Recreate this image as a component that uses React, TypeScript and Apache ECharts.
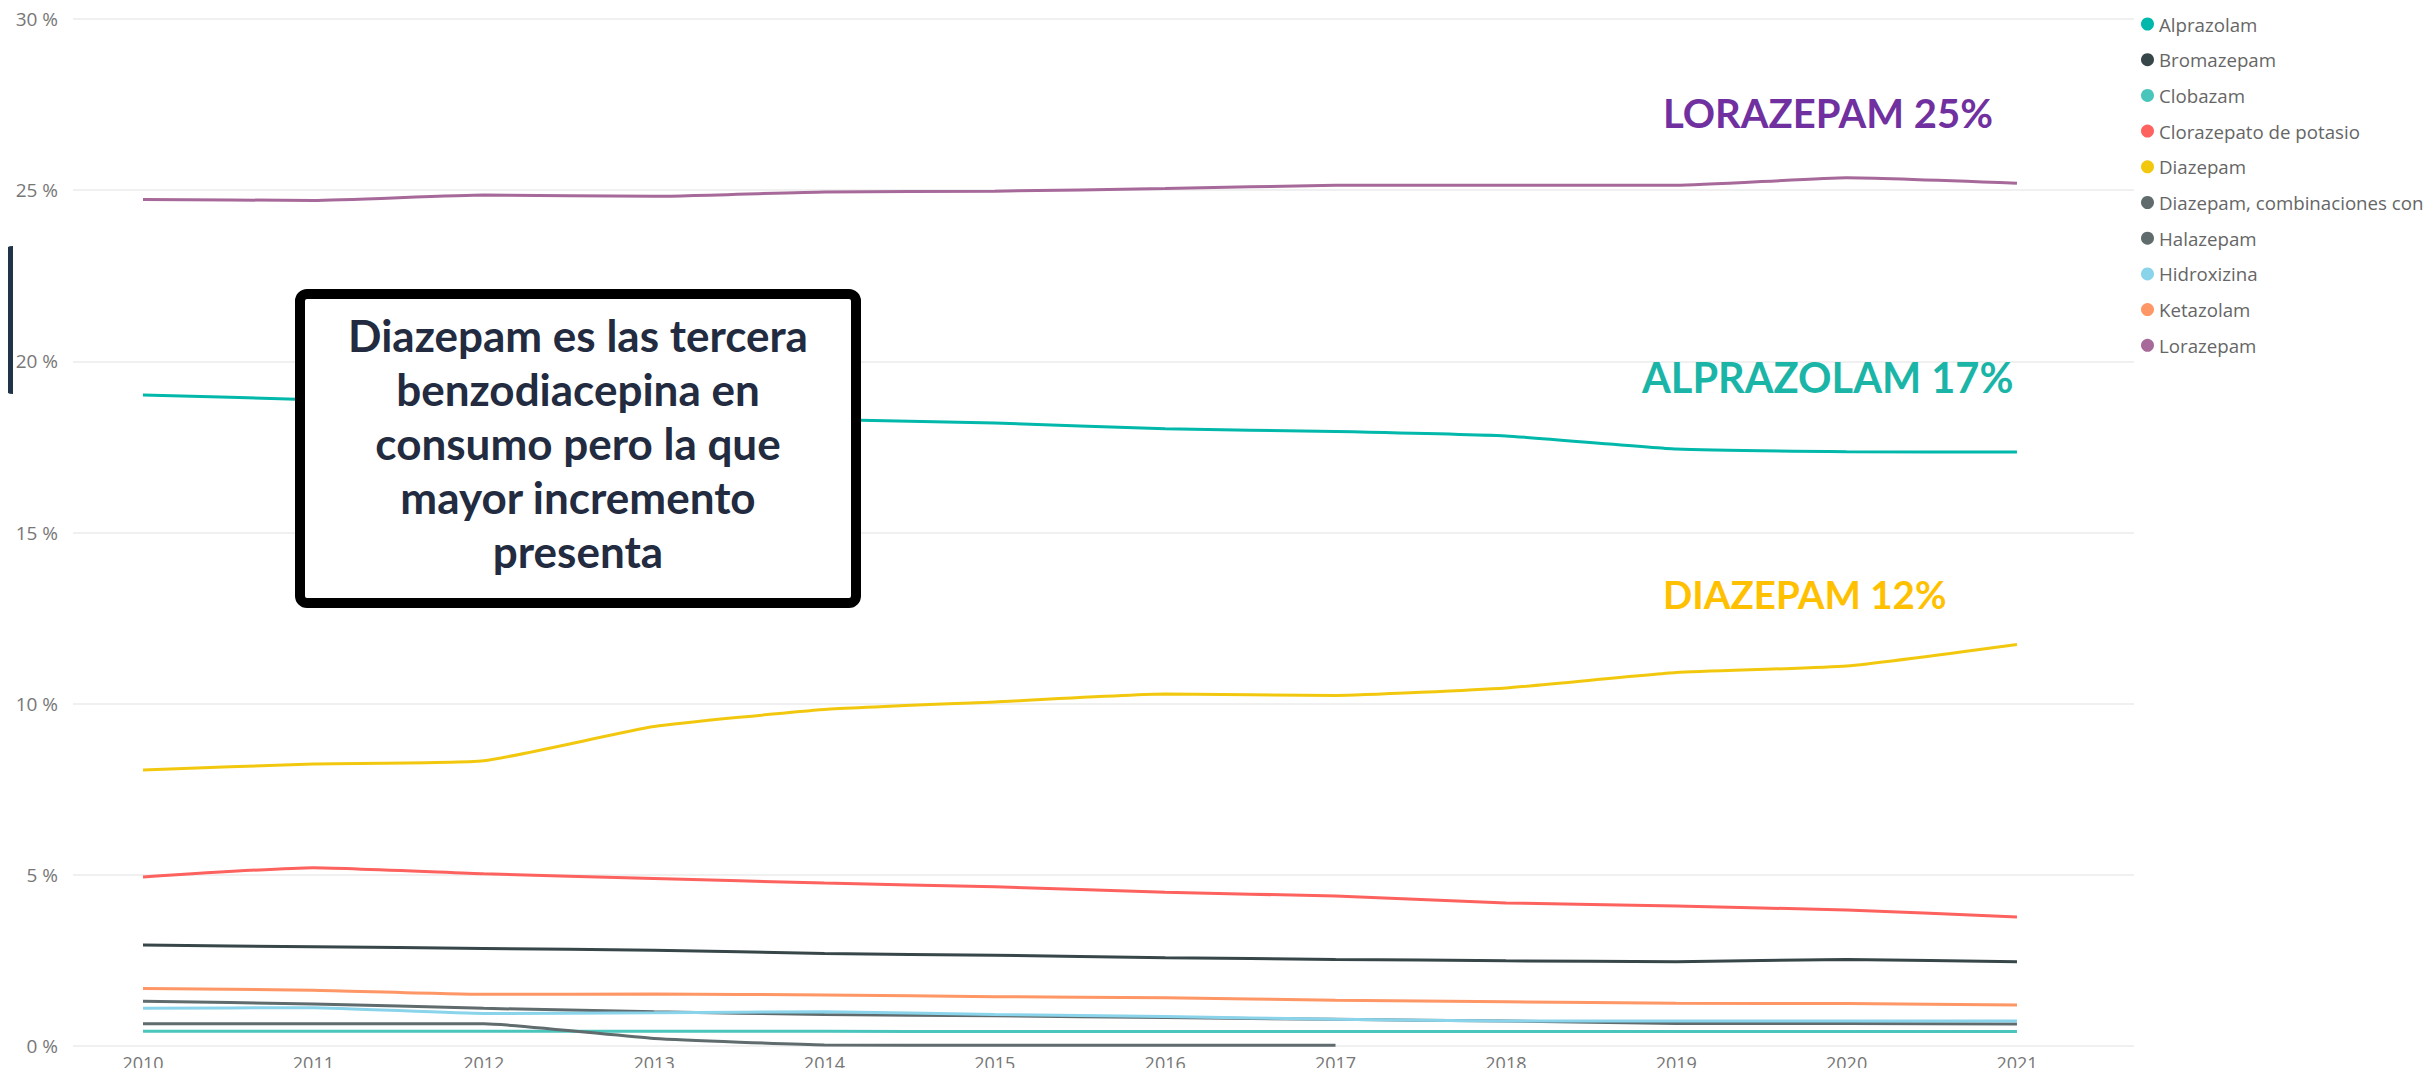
import React, { useEffect, useRef } from "react";
import * as echarts from "echarts";

const years = [2010, 2011, 2012, 2013, 2014, 2015, 2016, 2017, 2018, 2019, 2020, 2021];

const seriesNames = [
  "Alprazolam",
  "Bromazepam",
  "Clobazam",
  "Clorazepato de potasio",
  "Diazepam",
  "Diazepam, combinaciones con",
  "Halazepam",
  "Hidroxizina",
  "Ketazolam",
  "Lorazepam",
];

const seriesColors = [
  "#01B8AA",
  "#374649",
  "#4AC5BB",
  "#FD625E",
  "#F2C80F",
  "#5F6B6D",
  "#5F6B6D",
  "#8AD4EB",
  "#FE9666",
  "#A66999",
];

const alprazolam = [19.02, 18.88, 18.7, 18.5, 18.3, 18.2, 18.03, 17.95, 17.82, 17.44, 17.36, 17.35];
const bromazepam = [2.95, 2.9, 2.85, 2.8, 2.7, 2.65, 2.58, 2.53, 2.49, 2.46, 2.53, 2.46];
const clobazam = [0.43, 0.43, 0.43, 0.43, 0.43, 0.42, 0.42, 0.42, 0.42, 0.42, 0.42, 0.42];
const clorazepato = [4.94, 5.21, 5.03, 4.89, 4.76, 4.65, 4.49, 4.38, 4.18, 4.09, 3.97, 3.77];
const diazepam = [8.06, 8.24, 8.33, 9.33, 9.83, 10.05, 10.28, 10.24, 10.46, 10.91, 11.1, 11.73];
const diazepamComb = [1.31, 1.23, 1.1, 1.0, 0.92, 0.88, 0.83, 0.78, 0.73, 0.66, 0.66, 0.64];
const halazepam = [0.65, 0.65, 0.65, 0.22, 0.03, 0.02, 0.02, 0.02, null, null, null, null];
const hidroxizina = [1.1, 1.12, 0.95, 0.97, 1.0, 0.92, 0.86, 0.78, 0.73, 0.73, 0.73, 0.73];
const ketazolam = [1.68, 1.63, 1.51, 1.52, 1.49, 1.44, 1.41, 1.34, 1.29, 1.25, 1.24, 1.2];
const lorazepam = [24.73, 24.7, 24.86, 24.82, 24.95, 24.97, 25.05, 25.14, 25.14, 25.14, 25.36, 25.2];

const seriesValues = [
  alprazolam,
  bromazepam,
  clobazam,
  clorazepato,
  diazepam,
  diazepamComb,
  halazepam,
  hidroxizina,
  ketazolam,
  lorazepam,
];

const yTicks = [0, 5, 10, 15, 20, 25, 30];

const annotations = [
  { text: "LORAZEPAM 25%", color: "#7030A0" },
  { text: "ALPRAZOLAM 17%", color: "#1BB5A8" },
  { text: "DIAZEPAM 12%", color: "#FFC000" },
];

const boxText = [
  "Diazepam es las tercera",
  "benzodiacepina en",
  "consumo pero la que",
  "mayor incremento",
  "presenta",
];

const UI_FONT = "'Open Sans', 'Noto Sans', sans-serif";
const BOLD_FONT = "Lato, 'Open Sans', sans-serif";

export default function App() {
  const ref = useRef<HTMLDivElement>(null);

  useEffect(() => {
    if (!ref.current) return;
    const chart = echarts.init(ref.current, undefined, { renderer: "svg" });

    const series = seriesNames.map((name, i) => ({
      name,
      type: "line",
      data: years
        .map((y, j) => [y, seriesValues[i][j]])
        .filter((p) => p[1] !== null),
      showSymbol: false,
      symbol: "none",
      smooth: 0.15,
      lineStyle: { width: 3, color: seriesColors[i] },
      itemStyle: { color: seriesColors[i] },
      z: 3,
    }));

    const option = {
      animation: false,
      backgroundColor: "#ffffff",
      grid: { left: 73, right: 299, top: 19, bottom: 30, containLabel: false },
      xAxis: {
        type: "value",
        min: 2009.589,
        max: 2021.687,
        axisLine: { show: false },
        axisTick: { show: false },
        splitLine: { show: false },
        axisLabel: {
          customValues: years,
          formatter: (v: number) => String(v),
          color: "#777777",
          fontSize: 18,
          fontFamily: UI_FONT,
          margin: 8,
        },
      },
      yAxis: {
        type: "value",
        min: yTicks[0],
        max: yTicks[yTicks.length - 1],
        interval: 5,
        axisLine: { show: false },
        axisTick: { show: false },
        axisLabel: {
          formatter: "{value} %",
          color: "#777777",
          fontSize: 19,
          fontFamily: UI_FONT,
          margin: 15,
        },
        splitLine: { lineStyle: { color: "#ebebeb", width: 1.5 } },
      },
      legend: {
        orient: "vertical",
        left: 2136,
        top: 9,
        icon: "circle",
        itemWidth: 13,
        itemHeight: 13,
        itemGap: 15.7,
        data: seriesNames,
        textStyle: {
          color: "#666666",
          fontSize: 18.7,
          lineHeight: 20,
          fontFamily: UI_FONT,
        },
      },
      series,
      graphic: [
        {
          type: "text",
          x: 1663,
          y: 113,
          z: 10,
          style: {
            text: annotations[0].text,
            fill: annotations[0].color,
            font: `bold 40px ${BOLD_FONT}`,
            textAlign: "left",
            textVerticalAlign: "middle",
          },
        },
        {
          type: "text",
          x: 1642,
          y: 377,
          z: 10,
          style: {
            text: annotations[1].text,
            fill: annotations[1].color,
            font: `bold 41.5px ${BOLD_FONT}`,
            textAlign: "left",
            textVerticalAlign: "middle",
          },
        },
        {
          type: "text",
          x: 1663,
          y: 594,
          z: 10,
          style: {
            text: annotations[2].text,
            fill: annotations[2].color,
            font: `bold 38.5px ${BOLD_FONT}`,
            textAlign: "left",
            textVerticalAlign: "middle",
          },
        },
        {
          type: "rect",
          z: 20,
          shape: { x: 300, y: 294, width: 556, height: 309, r: 7 },
          style: { fill: "#ffffff", stroke: "#000000", lineWidth: 10 },
        },
        {
          type: "text",
          z: 21,
          x: 578,
          y: 443,
          style: {
            text: boxText.join("\n"),
            fill: "#222B40",
            font: `bold 44px ${BOLD_FONT}`,
            lineHeight: 54,
            textAlign: "center",
            textVerticalAlign: "middle",
          },
        },
        {
          type: "rect",
          z: 20,
          shape: { x: 4, y: 246, width: 9, height: 148, r: [8, 0, 0, 8] },
          style: { fill: "#1F3349" },
        },
      ],
    };

    chart.setOption(option as any);
    return () => chart.dispose();
  }, []);

  return <div ref={ref} style={{ width: 2433, height: 1076, margin: -8 }} />;
}
